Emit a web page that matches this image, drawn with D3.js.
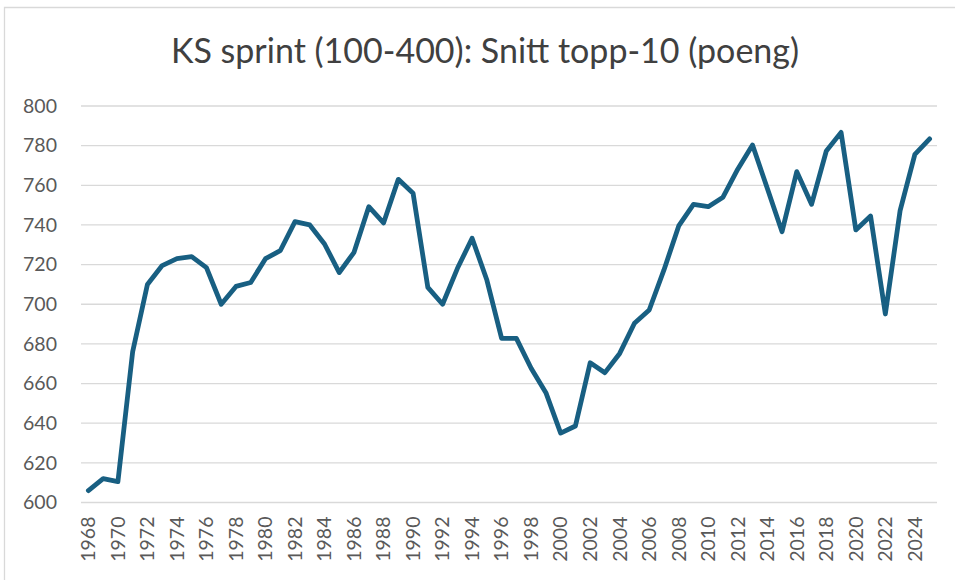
<!DOCTYPE html>
<html>
<head>
<meta charset="utf-8">
<script src="https://cdn.jsdelivr.net/npm/d3@7"></script>
<style>
  html, body { margin: 0; padding: 0; background: #fff; }
  svg { display: block; }
</style>
</head>
<body>
<svg id="chart" width="955" height="580"></svg>
<script>
const titleText = "KS sprint (100-400): Snitt topp-10 (poeng)";
const years = d3.range(1968, 2026);
const values = [
  606, 612, 610.5, 676, 710, 719.5, 723, 724, 718.5, 700,
  709, 711, 723, 727, 741.7, 740, 730.4, 716, 726.2, 749.2,
  741, 763, 756, 708.5, 700, 718, 733.3, 712.2, 682.8, 682.8,
  667.7, 655.4, 635, 638.6, 670.5, 665.5, 675.2, 690.4, 697.1, 717.3,
  739.5, 750.4, 749.2, 754, 768.1, 780.3, 758.5, 736.6, 766.9, 750.4,
  777.3, 786.7, 737.5, 744.5, 695.1, 747.2, 775.6, 783.4
];
const yTicks = [600, 620, 640, 660, 680, 700, 720, 740, 760, 780, 800];
const xTickLabels = years.filter(y => (y - 1968) % 2 === 0);

(function () {
const svg = d3.select("#chart");
const pLeft = 81, pRight = 937, pTop = 106, pBottom = 502.5;
const font = "Lato, 'Open Sans', sans-serif";

// chart border (only top & left visible)
svg.append("path")
  .attr("d", "M4.5,580 L4.5,7.5 L955,7.5")
  .attr("fill", "none").attr("stroke", "#d9d9d9").attr("stroke-width", 1.3);

const x = d3.scaleBand().domain(years).range([pLeft, pRight]).paddingInner(0).paddingOuter(0);
const y = d3.scaleLinear().domain([600, 800]).range([pBottom, pTop]);

// gridlines
svg.append("g").selectAll("line").data(yTicks).join("line")
  .attr("x1", pLeft).attr("x2", pRight)
  .attr("y1", d => y(d)).attr("y2", d => y(d))
  .attr("stroke", "#d9d9d9").attr("stroke-width", 1.3);

// y axis labels
const yAxis = d3.axisLeft(y).tickValues(yTicks).tickSize(0).tickPadding(0);
const gy = svg.append("g").attr("transform", `translate(57,0)`).call(yAxis);
gy.select(".domain").remove();
gy.selectAll("text").attr("font-family", font).attr("font-size", 19.5).attr("fill", "#595959");

// x axis labels
const xAxis = d3.axisBottom(x).tickValues(xTickLabels).tickSize(0).tickPadding(0);
const gx = svg.append("g").attr("transform", `translate(0,${pBottom})`).call(xAxis);
gx.select(".domain").remove();
gx.selectAll("text")
  .attr("font-family", font).attr("font-size", 19.5).attr("fill", "#595959")
  .attr("transform", "translate(0,14) rotate(-90)")
  .attr("text-anchor", "end").attr("dy", "0.35em").attr("y", 0).attr("x", 0);

// line
const line = d3.line()
  .x((d, i) => x(years[i]) + x.bandwidth() / 2)
  .y(d => y(d));
svg.append("path").datum(values)
  .attr("d", line)
  .attr("fill", "none").attr("stroke", "#185f82").attr("stroke-width", 4.8)
  .attr("stroke-linejoin", "round").attr("stroke-linecap", "round");

// title
svg.append("text")
  .attr("x", 485).attr("y", 63)
  .attr("text-anchor", "middle")
  .attr("font-family", font).attr("font-size", 34).attr("fill", "#404040")
  .text(titleText);
})();
</script>
</body>
</html>
